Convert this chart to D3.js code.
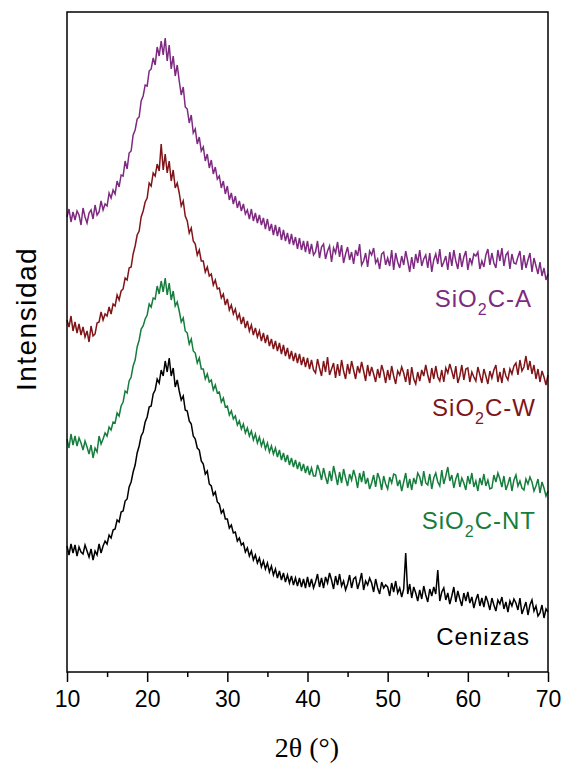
<!DOCTYPE html>
<html>
<head>
<meta charset="utf-8">
<script src="https://cdn.jsdelivr.net/npm/d3@7"></script>
<style>
  body { margin: 0; background: #fff; }
  text { font-family: "Liberation Sans", Arial, sans-serif; }
</style>
</head>
<body>
<script>
// 2theta grid: 10 to 70 deg, step 0.25
var thetaStart = 10, thetaStep = 0.25;

// intensities (a.u., curves already stacked as in the figure)
var sio2cA = [
455,463,450,460, 452,461,457,447, 464,455,449,459, 462,453,467,457, 460,471,462,468,
466,479,474,482, 478,491,485,497, 496,511,503,519, 521,537,542,553, 555,571,576,587,
586,601,603,614, 607,625,616,631, 617,634,611,627, 603,616,596,607, 591,577,585,565,
563,549,557,539, 543,528,535,521, 525,511,518,504, 512,498,505,493, 496,484,491,478,
486,472,479,468, 476,464,471,461, 468,458,462,453, 463,451,459,449, 457,447,454,443,
453,441,448,437, 447,436,445,432, 442,431,439,428, 438,427,435,423, 434,422,431,420,
431,418,428,417, 420,431,414,425, 428,413,421,426, 410,424,419,430, 415,427,409,418,
425,412,420,408, 422,416,428,407, 411,419,405,421, 417,424,409,413, 403,418,420,407,
414,406,422,402, 419,410,404,416, 407,421,411,400, 415,403,418,409, 422,406,413,417,
404,419,400,412, 418,408,423,405, 410,416,402,420, 406,422,411,403, 419,405,415,421,
402,414,408,418, 416,420,403,411, 405,417,423,407, 419,409,404,422, 411,424,406,417,
420,403,418,409, 408,415,421,402, 417,404,412,419, 400,414,406,398, 410,396,404,392,
398];

var sio2cW = [
352,345,356,341, 350,339,348,337, 345,335,341,330, 346,336,338,349, 350,360,352,358,
356,365,358,368, 366,377,372,381, 383,394,392,404, 405,418,426,437, 441,455,461,470,
474,489,486,499, 496,508,501,528, 502,518,499,511, 491,502,484,489, 479,466,471,456,
451,439,444,431, 428,417,422,411, 411,400,405,396, 398,387,392,383, 384,374,378,367,
373,362,367,358, 363,353,358,348, 355,344,351,341, 347,337,344,335, 341,331,339,329,
337,326,333,323, 331,321,329,318, 327,316,324,313, 321,311,319,309, 318,307,315,305,
314,303,312,302, 299,313,304,296, 311,300,315,297, 303,309,294,308, 296,312,301,293,
308,298,311,302, 293,306,299,310, 301,291,307,296, 305,298,290,303, 294,307,300,289,
302,292,306,296, 288,301,297,305, 299,290,303,287, 305,293,288,300, 291,302,296,307,
297,289,304,293, 306,295,291,302, 290,304,299,308, 301,293,306,289, 296,307,292,303,
304,290,300,295, 291,305,297,289, 303,296,288,301, 294,302,307,290, 300,289,304,296,
292,303,298,306, 309,297,312,301, 305,316,302,311, 298,307,293,303, 290,301,295,287,
297];

var sio2cNT = [
233,224,238,227, 236,226,234,229, 222,231,225,218, 227,214,224,220, 236,228,233,239,
236,245,242,250, 249,259,256,266, 270,281,279,291, 295,306,312,325, 332,343,346,353,
357,368,365,374, 373,386,378,391, 380,394,377,389, 372,381,366,370, 361,350,354,341,
339,328,333,321, 319,309,314,303, 303,293,298,290, 292,282,287,279, 280,270,274,265,
266,257,261,253, 256,247,251,243, 248,239,244,236, 241,232,238,229, 235,226,232,223,
229,220,226,218, 224,215,222,212, 219,210,217,207, 214,205,212,203, 210,201,208,199,
206,197,204,196, 196,207,201,192, 204,195,188,201, 191,206,197,187, 200,189,203,194,
186,198,192,202, 195,184,199,190, 201,188,194,183, 189,197,185,199, 193,182,196,188,
183,195,189,198, 197,186,192,181, 190,199,184,193, 182,194,188,199, 195,186,201,189,
187,198,183,194, 199,190,186,202, 188,196,205,191, 197,184,193,199, 185,194,189,182,
196,188,199,185, 191,181,194,187, 198,186,192,183, 184,197,190,199, 193,185,196,182,
188,195,181,192, 197,186,191,184, 182,193,188,195, 190,181,186,193, 179,190,184,176,
181];

var cenizas = [
126,117,128,119, 127,116,125,120, 118,127,121,115, 123,112,121,117, 128,119,126,131,
128,137,134,142, 143,152,150,160, 161,171,173,185, 190,200,207,219, 226,236,240,250,
255,265,266,278, 282,293,289,302, 296,311,300,314, 296,304,285,292, 281,272,276,262,
261,251,248,236, 233,224,222,211, 208,198,201,188, 186,177,180,170, 168,159,162,153,
153,144,147,139, 140,131,134,127, 129,120,124,116, 121,112,117,109, 114,105,111,103,
109,100,106,97, 103,94,101,92, 99,90,97,89, 96,87,94,86, 94,85,93,84,
95,85,93,84, 90,98,85,94, 84,95,89,99, 92,83,96,87, 98,86,91,82,
88,97,84,93, 95,83,90,99, 82,91,87,94, 89,80,93,84, 78,90,84,87,
85,76,89,80, 91,79,84,75, 83,119,78,88, 74,85,79,71, 82,73,86,77,
70,83,76,85, 78,102,71,80, 84,72,79,68, 76,85,70,81, 73,66,79,71,
80,69,75,64, 72,78,66,74, 65,76,70,62, 74,67,61,72, 68,75,63,70,
60,71,66,73, 69,62,74,58, 64,70,57,67, 72,61,66,56, 59,67,54,63,
60];

var seriesColors = ["#7d2a80", "#7f1518", "#167d3d", "#000000"];
var seriesData = [sio2cA, sio2cW, sio2cNT, cenizas];

var xMajorTicks = [10, 20, 30, 40, 50, 60, 70];
var xMinorTicks = [15, 25, 35, 45, 55, 65];

var W = 564, H = 764;
var margin = {top: 12, right: 16, bottom: 92, left: 67};

var svg = d3.select("body").append("svg")
    .attr("width", W)
    .attr("height", H);

var x = d3.scaleLinear().domain([10, 70]).range([margin.left, W - margin.right]);
var y = d3.scaleLinear().domain([0, 660]).range([H - margin.bottom, margin.top]);

var line = d3.line()
    .x(function(d, i){ return x(thetaStart + i * thetaStep); })
    .y(function(d){ return y(d); });

svg.selectAll("path.xrd")
    .data(seriesData)
    .enter()
    .append("path")
    .attr("class", "xrd")
    .attr("d", line)
    .attr("fill", "none")
    .attr("stroke", function(d, i){ return seriesColors[i]; })
    .attr("stroke-width", 1.5)
    .attr("stroke-linejoin", "miter");

// frame
svg.append("rect")
    .attr("x", x(10)).attr("y", y(660))
    .attr("width", x(70) - x(10)).attr("height", y(0) - y(660))
    .attr("fill", "none").attr("stroke", "#000").attr("stroke-width", 1.5);

// x axis
var gx = svg.append("g").attr("transform", "translate(0," + y(0) + ")");
gx.call(d3.axisBottom(x).tickValues(xMajorTicks).tickSize(10).tickPadding(9).tickFormat(d3.format("d")));
gx.append("g").call(d3.axisBottom(x).tickValues(xMinorTicks).tickSize(5).tickFormat(""));
gx.selectAll(".domain").remove();
gx.selectAll("line").attr("stroke", "#000").attr("stroke-width", 1.5);
gx.selectAll("text")
    .attr("fill", "#000")
    .style("font-family", "'Liberation Sans', Arial, sans-serif")
    .style("font-size", "23px");

// axis titles
svg.append("text")
    .attr("x", 307).attr("y", 757)
    .attr("text-anchor", "middle")
    .style("font-family", "'Liberation Serif', 'Times New Roman', serif")
    .style("font-size", "28px")
    .text("2θ (°)");

svg.append("text")
    .attr("transform", "translate(36,319) rotate(-90)")
    .attr("text-anchor", "middle")
    .style("font-size", "28px")
    .style("letter-spacing", "1.5px")
    .text("Intensidad");

// series labels
var labelPos = [
    {x: 532, y: 307, pre: "SiO", sub: "2", post: "C-A"},
    {x: 536, y: 416, pre: "SiO", sub: "2", post: "C-W"},
    {x: 536, y: 529, pre: "SiO", sub: "2", post: "C-NT"},
    {x: 530, y: 645, pre: "Cenizas", sub: "", post: ""}
];

labelPos.forEach(function(p, i){
    var t = svg.append("text")
        .attr("x", p.x).attr("y", p.y)
        .attr("text-anchor", "end")
        .attr("fill", seriesColors[i])
        .style("font-size", "24px")
        .style("letter-spacing", "1px");
    t.append("tspan").text(p.pre);
    if (p.sub) {
        t.append("tspan").attr("dy", 8).style("font-size", "16px").text(p.sub);
        t.append("tspan").attr("dy", -8).text(p.post);
    }
});
</script>
</body>
</html>
